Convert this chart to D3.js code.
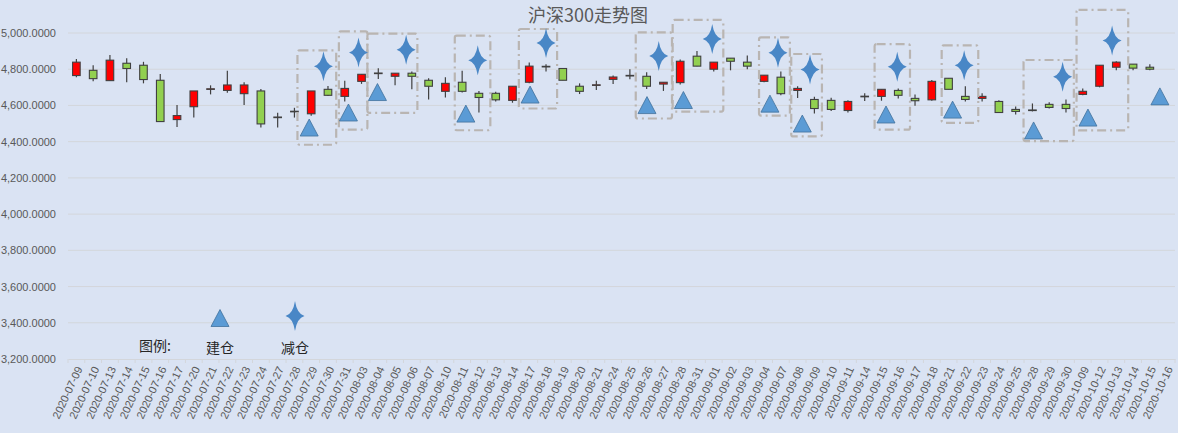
<!DOCTYPE html>
<html>
<head>
<meta charset="utf-8">
<script src="https://cdn.jsdelivr.net/npm/d3@7"></script>
<style>
  html, body { margin: 0; padding: 0; background: #dae3f3; }
</style>
</head>
<body>
<div id="chart"></div>
<script>
// dates on the category axis
const dates = ["2020-07-09","2020-07-10","2020-07-13","2020-07-14","2020-07-15","2020-07-16","2020-07-17",
  "2020-07-20","2020-07-21","2020-07-22","2020-07-23","2020-07-24","2020-07-27","2020-07-28","2020-07-29",
  "2020-07-30","2020-07-31","2020-08-03","2020-08-04","2020-08-05","2020-08-06","2020-08-07","2020-08-10",
  "2020-08-11","2020-08-12","2020-08-13","2020-08-14","2020-08-17","2020-08-18","2020-08-19","2020-08-20",
  "2020-08-21","2020-08-24","2020-08-25","2020-08-26","2020-08-27","2020-08-28","2020-08-31","2020-09-01",
  "2020-09-02","2020-09-03","2020-09-04","2020-09-07","2020-09-08","2020-09-09","2020-09-10","2020-09-11",
  "2020-09-14","2020-09-15","2020-09-16","2020-09-17","2020-09-18","2020-09-21","2020-09-22","2020-09-23",
  "2020-09-24","2020-09-25","2020-09-28","2020-09-29","2020-09-30","2020-10-09","2020-10-12","2020-10-13",
  "2020-10-14","2020-10-15","2020-10-16"];

// OHLC series (last day has no candle)
const open  = [4765,4794,4737,4833,4822,4739,4522,4593,4690,4683,4665,4680,4534,4566,4554,4689,4650,4733,4777,4761,
  4778,4739,4678,4728,4667,4667,4628,4728,4814,4804,4706,4712,4744,4764,4761,4718,4726,4872,4800,4861,
  4839,4733,4756,4683,4633,4628,4572,4649,4650,4683,4639,4631,4750,4650,4639,4622,4578,4575,4606,4606,
  4661,4706,4811,4828,4811,null];
const high  = [4856,4822,4878,4861,4841,4774,4602,4680,4711,4791,4728,4691,4559,4587,4680,4707,4737,4772,4806,4778,
  4787,4750,4756,4791,4680,4676,4706,4837,4828,4804,4722,4737,4765,4800,4783,4728,4854,4900,4839,4861,
  4876,4767,4787,4706,4648,4643,4628,4667,4689,4693,4661,4741,4750,4706,4667,4628,4594,4611,4617,4633,
  4694,4822,4844,4828,4828,null];
const low   = [4756,4733,4735,4728,4722,4511,4481,4533,4661,4670,4602,4478,4478,4533,4543,4652,4622,4719,4746,4711,
  4689,4633,4644,4672,4561,4622,4615,4722,4787,4739,4663,4685,4718,4744,4691,4680,4715,4817,4787,4794,
  4800,4728,4656,4641,4556,4569,4561,4624,4626,4639,4598,4626,4689,4622,4622,4561,4550,4567,4583,4561,
  4656,4700,4794,4794,4794,null];
const close = [4839,4748,4850,4804,4743,4511,4544,4680,4692,4713,4713,4498,4536,4568,4680,4656,4694,4772,4779,4778,
  4761,4706,4722,4678,4644,4631,4706,4817,4816,4739,4678,4714,4757,4766,4706,4728,4844,4817,4839,4844,
  4817,4767,4665,4694,4583,4578,4622,4651,4689,4656,4626,4733,4689,4633,4650,4561,4567,4573,4589,4583,
  4678,4822,4839,4806,4800,null];

// 建仓 markers: position along the date axis (category index) and level
const buyIdx = [13.88,16.22,17.95,23.22,27.05,34.02,36.19,41.35,43.28,48.27,52.24,57.07,60.31,64.6];
const buyVal = [4478,4561,4674,4555,4660,4602,4630,4610,4500,4550,4577,4462,4533,4650];

// 减仓 markers
const sellIdx = [14.73,16.82,19.66,23.93,28.0,34.72,37.91,41.83,43.74,48.94,52.93,58.8,61.75];
const sellVal = [4816,4893,4908,4849,4945,4873,4967,4891,4798,4813,4822,4759,4959];

// dashed boxes round each trade: from/to index, top/bottom level
const boxFrom = [13.18,15.65,17.35,22.56,26.38,33.35,35.55,40.7,42.62,47.59,51.59,56.47,59.63];
const boxTo   = [15.49,17.35,20.33,24.68,28.66,35.51,38.57,42.54,44.45,49.7,53.77,59.47,62.71];
const boxTop  = [4904,5009,4996,4985,5022,5003,5072,4976,4884,4939,4932,4851,5128];
const boxBot  = [4383,4467,4559,4463,4583,4528,4566,4544,4429,4466,4504,4403,4462];

const yTicks = d3.range(3200, 5001, 200);

const width = 1178, height = 433;
const margin = {top: 33, right: 3, bottom: 74, left: 68};

const svg = d3.select("#chart").append("svg")
    .attr("width", width)
    .attr("height", height)
    .style("display", "block")
    .style("background", "#dae3f3");

const defs = svg.append("defs");
defs.append("filter").attr("id", "soft")
  .append("feGaussianBlur").attr("stdDeviation", 0.6);

const x = d3.scaleBand()
    .domain(dates)
    .range([margin.left, width - margin.right])
    .padding(0);

const y = d3.scaleLinear()
    .domain([3200, 5000])
    .range([height - margin.bottom, margin.top]);

const bw = x.bandwidth();
const xi = d3.scaleLinear()
    .domain([0, dates.length - 1])
    .range([x(dates[0]) + bw / 2, x(dates[dates.length - 1]) + bw / 2]);

// title
svg.append("text")
    .attr("x", 588)
    .attr("y", 22)
    .attr("text-anchor", "middle")
    .attr("font-family", "'Noto Sans CJK SC', sans-serif")
    .attr("font-size", 18)
    .attr("fill", "#595959")
    .text("沪深300走势图");

// grid + y labels
const yAxis = svg.append("g")
    .attr("transform", `translate(${margin.left},0)`)
    .call(d3.axisLeft(y).tickValues(yTicks).tickSize(0).tickPadding(12)
      .tickFormat(d => d3.format(",.4f")(d)));
yAxis.select(".domain").remove();
yAxis.selectAll("text")
    .attr("font-family", "'Liberation Sans', Arial, sans-serif")
    .attr("font-size", 11)
    .attr("fill", "#595959");

svg.append("g")
  .selectAll("line")
  .data(yTicks.filter(d => d > 3200))
  .join("line")
    .attr("x1", margin.left)
    .attr("x2", width - margin.right)
    .attr("y1", d => y(d))
    .attr("y2", d => y(d))
    .attr("stroke", "#d3d6db")
    .attr("stroke-width", 1);

// x axis
const xAxis = svg.append("g")
    .attr("transform", `translate(0,${y(3200)})`)
    .call(d3.axisBottom(x).tickSize(0).tickPadding(0));
xAxis.select(".domain").attr("stroke", "#d3d6db");
xAxis.selectAll("text")
    .attr("font-family", "'Liberation Sans', Arial, sans-serif")
    .attr("font-size", 11)
    .attr("fill", "#595959")
    .attr("text-anchor", "end")
    .attr("transform", "translate(3,8) rotate(-65)")
    .attr("dy", "0.35em");
// boundary tick marks
svg.append("g")
  .selectAll("line")
  .data(dates.concat([null]))
  .join("line")
    .attr("x1", (d, i) => margin.left + i * bw)
    .attr("x2", (d, i) => margin.left + i * bw)
    .attr("y1", y(3200))
    .attr("y2", y(3200) + 4)
    .attr("stroke", "#d3d6db");

// candles
const candles = dates.map((d, i) => ({d, o: open[i], h: high[i], l: low[i], c: close[i]}))
    .filter(k => k.o != null);

const cg = svg.append("g");
cg.selectAll("line")
  .data(candles)
  .join("line")
    .attr("x1", k => x(k.d) + bw / 2)
    .attr("x2", k => x(k.d) + bw / 2)
    .attr("y1", k => y(k.h))
    .attr("y2", k => y(k.l))
    .attr("stroke", "#404040")
    .attr("stroke-width", 1.2);

cg.selectAll("rect")
  .data(candles)
  .join("rect")
    .attr("x", k => x(k.d) + bw / 2 - 3.8)
    .attr("width", 7.6)
    .attr("y", k => y(Math.max(k.o, k.c)))
    .attr("height", k => Math.max(0.6, Math.abs(y(k.o) - y(k.c))))
    .attr("fill", k => k.c >= k.o ? "#ff0000" : "#92d050")
    .attr("stroke", "#404040")
    .attr("stroke-width", 1.1);

// dashed boxes
svg.append("g")
  .selectAll("rect")
  .data(boxFrom.map((f, i) => ({f, t: boxTo[i], top: boxTop[i], bot: boxBot[i]})))
  .join("rect")
    .attr("x", b => xi(b.f))
    .attr("width", b => xi(b.t) - xi(b.f))
    .attr("y", b => y(b.top))
    .attr("height", b => y(b.bot) - y(b.top))
    .attr("rx", 2)
    .attr("fill", "none")
    .attr("stroke", "#b9b5b2")
    .attr("stroke-width", 2.2)
    .attr("stroke-dasharray", "9,4,2,4");

// marker shapes
const triPath = "M0,-8.5 L9,8.5 L-9,8.5 Z";
const starPath = "M0,-15 Q2,-2 9.5,0 Q2,2 0,15 Q-2,2 -9.5,0 Q-2,-2 0,-15 Z";

svg.append("g")
  .selectAll("path")
  .data(buyIdx.map((v, i) => [v, buyVal[i]]))
  .join("path")
    .attr("d", triPath)
    .attr("transform", p => `translate(${xi(p[0])},${y(p[1])})`)
    .attr("fill", "#5b9bd5")
    .attr("stroke", "#41719c")
    .attr("stroke-width", 0.8);

svg.append("g")
  .selectAll("path")
  .data(sellIdx.map((v, i) => [v, sellVal[i]]))
  .join("path")
    .attr("d", starPath)
    .attr("transform", p => `translate(${xi(p[0])},${y(p[1])})`)
    .attr("fill", "#4a87c6")
    .attr("filter", "url(#soft)");

// legend
const lg = svg.append("g")
    .attr("font-family", "'Noto Sans CJK SC', sans-serif")
    .attr("font-size", 14)
    .attr("fill", "#262626");
lg.append("text").attr("x", 139).attr("y", 351).text("图例:");
lg.append("path").attr("d", triPath).attr("transform", "translate(220,318)")
    .attr("fill", "#5b9bd5").attr("stroke", "#41719c").attr("stroke-width", 0.8);
lg.append("text").attr("x", 220).attr("y", 353).attr("text-anchor", "middle").text("建仓");
lg.append("path").attr("d", starPath).attr("transform", "translate(295,316)")
    .attr("fill", "#4a87c6").attr("filter", "url(#soft)");
lg.append("text").attr("x", 295).attr("y", 353).attr("text-anchor", "middle").text("减仓");
</script>
</body>
</html>
